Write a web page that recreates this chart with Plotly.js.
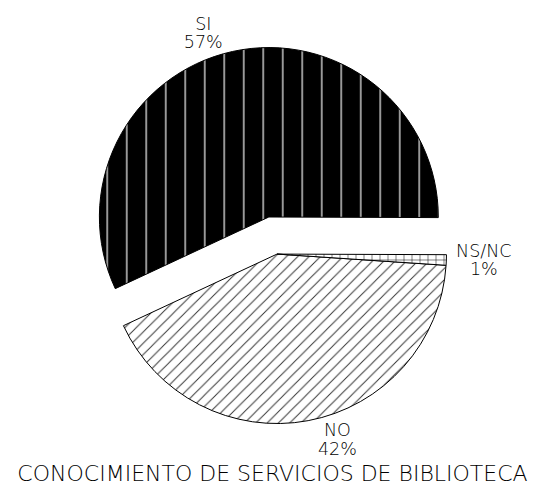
<!DOCTYPE html>
<html>
<head>
<meta charset="utf-8">
<script src="https://cdn.plot.ly/plotly-3.0.1.min.js"></script>
<style>html,body{margin:0;padding:0;background:#fff;}#chart{width:545px;height:486px;}</style>
</head>
<body>
<div id="chart"></div>
<script>
const labels = ["SI", "NO", "NS/NC"];
const values = [57, 42, 1];
const pulls = [0.224, 0, 0];
const chartTitle = "CONOCIMIENTO DE SERVICIOS DE BIBLIOTECA";

const patterns = [
  {shape: "|", bgcolor: "#000000", fgcolor: "#ffffff", size: 19.5, solidity: 0.06},
  {shape: "/", bgcolor: "#ffffff", fgcolor: "#333333", size: 8, solidity: 0.12},
  {shape: "+", bgcolor: "#ffffff", fgcolor: "#000000", size: 8, solidity: 0.12}
];

const fontFam = "DejaVu Sans, sans-serif";

const trace = {
  type: "pie",
  labels: labels,
  values: values,
  pull: pulls,
  sort: false,
  direction: "counterclockwise",
  rotation: 245,
  texttemplate: "<span style='font-size:17.5px'>%{label}</span><br><span style='font-size:17.5px'>%{percent:.0%}</span>",
  textposition: "outside",
  textfont: {family: fontFam, size: 14.5, color: "#000", weight: 200},
  marker: {
    colors: ["#000000", "#ffffff", "#ffffff"],
    line: {color: "#000000", width: 1},
    pattern: {
      shape: patterns.map(p => p.shape),
      bgcolor: patterns.map(p => p.bgcolor),
      fgcolor: patterns.map(p => p.fgcolor),
      size: patterns.map(p => p.size),
      solidity: patterns.map(p => p.solidity),
      fillmode: "replace"
    }
  },
  domain: {x: [0.1275, 0.889], y: [0.0504, 0.904]},
  hoverinfo: "none",
  showlegend: false
};

const layout = {
  width: 545,
  height: 486,
  margin: {l: 0, r: 0, t: 0, b: 0},
  paper_bgcolor: "#ffffff",
  showlegend: false,
  title: {
    text: chartTitle,
    x: 0.5,
    xanchor: "center",
    y: 0.026,
    yanchor: "middle",
    font: {family: fontFam, size: 22, color: "#000", weight: 200}
  }
};

Plotly.newPlot("chart", [trace], layout, {staticPlot: true});
</script>
</body>
</html>
